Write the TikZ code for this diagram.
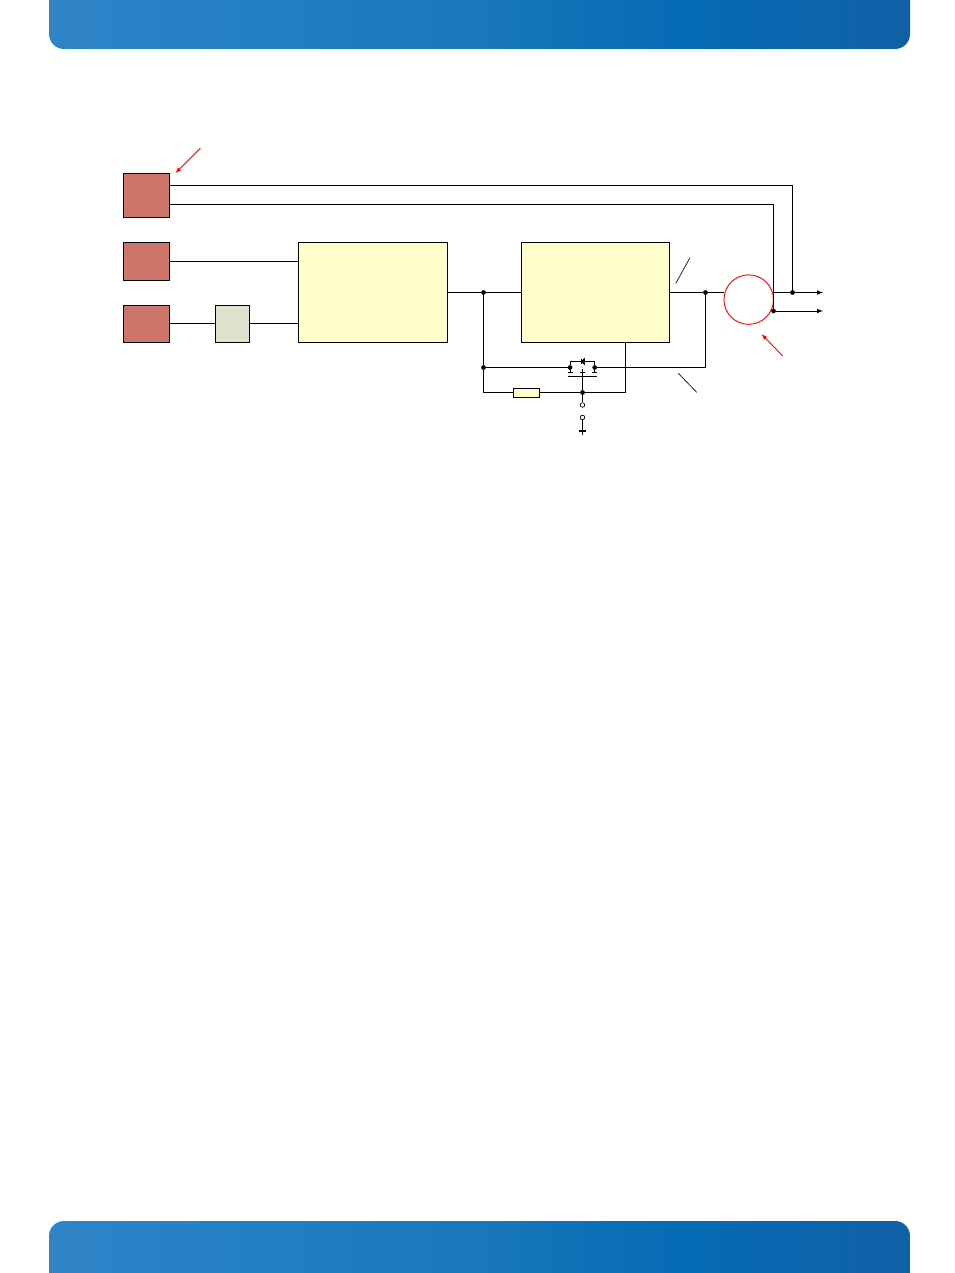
\documentclass[tikz,border=0pt]{standalone}
\usepackage{tikz}
\usetikzlibrary{arrows,positioning,calc}
\definecolor{srcred}{HTML}{CD756B}
\definecolor{blockyellow}{HTML}{FFFFCC}
\definecolor{filtergreen}{HTML}{DDE2CC}
\definecolor{bannerA}{HTML}{3084C8}
\definecolor{bannerB}{HTML}{1F7EC2}
\definecolor{bannerC}{HTML}{1878B9}
\definecolor{bannerD}{HTML}{056BB5}
\definecolor{bannerE}{HTML}{1160A5}
\pgfdeclarehorizontalshading{bannershade}{100bp}{
  color(0bp)=(bannerA); color(25bp)=(bannerA); color(40bp)=(bannerB); color(50bp)=(bannerC);
  color(62bp)=(bannerD); color(75bp)=(bannerE); color(100bp)=(bannerE)}
\tikzstyle{wire}=[draw=black,line width=1pt]
\tikzstyle{source}=[draw=black,line width=1pt,fill=srcred,minimum width=46pt,inner sep=0pt,outer sep=0pt,anchor=north west]
\tikzstyle{block}=[draw=black,line width=1pt,fill=blockyellow,minimum width=149pt,minimum height=100pt,inner sep=0pt,outer sep=0pt,anchor=north west]
\tikzstyle{jdot}=[draw=black,fill=black,circle,minimum size=4.2pt,inner sep=0pt]
\tikzstyle{opendot}=[draw=black,fill=white,circle,line width=0.7pt,minimum size=4.6pt,inner sep=0pt]
\tikzstyle{pointer}=[draw=red,line width=0.9pt,-latex]
\tikzstyle{tick}=[draw=black!85,line width=0.8pt]
\begin{document}
\begin{tikzpicture}[x=1pt,y=-1pt]
\useasboundingbox (0,0) rectangle (954,1273);
% header and footer bands
\shade[shading=bannershade] (49,-1) [rounded corners=15pt] -- (49,49) -- (910,49) [sharp corners] -- (910,-1) -- cycle;
\shade[shading=bannershade] (49,1274) [rounded corners=15pt] -- (49,1221) -- (910,1221) [sharp corners] -- (910,1274) -- cycle;

% left column
\node [source,minimum height=44pt] (src1) at (123.5,173.5) {};
\node [source,minimum height=38pt] (src2) at (123.5,242.5) {};
\node [source,minimum height=37pt] (src3) at (123.5,305.5) {};
\node [source,fill=filtergreen,minimum width=34pt,minimum height=37pt] (filter) at (215.5,305.5) {};
\node [block] (conv) at (298.5,242.5) {};
\node [block,minimum width=148pt] (reg) at (521.5,242.5) {};
\node [source,fill=blockyellow,minimum width=26pt,minimum height=9pt] (shunt) at (513.5,388) {};
\node [draw=red,line width=0.9pt,circle,minimum size=49.5pt,inner sep=0pt,outer sep=0pt] (conn) at (748.7,299.6) {};

% junctions and free ends
\node [jdot] (jin) at (483.5,292.5) {};
\node [jdot] (jfb) at (483.5,367.5) {};
\node [jdot] (jout) at (705.5,292.5) {};
\node [jdot] (jpos) at (792.5,292.5) {};
\node [jdot] (jneg) at (773.5,311) {};
\node [jdot] (jsrc) at (570,367.5) {};
\node [jdot] (jdrn) at (594.7,367.5) {};
\node [jdot] (jgate) at (582.5,392.5) {};
\node [opendot] (pin1) at (582.5,405) {};
\node [opendot] (pin2) at (582.5,417.5) {};
\coordinate (vplus) at (823,292.5);
\coordinate (vminus) at (823,311);
\coordinate (s1a) at (169.5,185.5);
\coordinate (s1b) at (169.5,204.5);
\coordinate (s3r) at (169.5,323.5);
\coordinate (gnd) at (582.5,434.5);
\coordinate (gatetop) at (582.5,369);
\coordinate (regtap) at (625.5,342.5);
\coordinate (hook) at (773.5,292.5);

% main wiring
\draw [wire] (s1a) -- (jpos |- s1a) -- (jpos);
\draw [wire] (s1b) -- (jneg |- s1b) -- (jneg);
\draw [wire] (src2.east) -- (conv.west |- src2.east);
\draw [wire] (s3r) -- (filter.west |- s3r);
\draw [wire] (filter.east |- s3r) -- (conv.west |- s3r);
\draw [wire] (conv.east |- jin) -- (jin) -- (reg.west |- jin);
\draw [wire] (reg.east |- jout) -- (jout) -- (conn.west |- jout);
\draw [wire,-latex] (hook) -- (jpos) -- (vplus);
\draw [wire,-latex] (jneg) -- (vminus);

% feedback path with the pass switch
\draw [wire] (jin) -- (jfb) -- (jsrc);
\draw [wire] (jdrn) -- (jout |- jdrn) -- (jout);
\draw [wire] (jfb) -- (jfb |- jgate) -- (shunt.west |- jgate);
\draw [wire] (shunt.east |- jgate) -- (jgate) -- (jgate -| regtap) -- (regtap);
\draw [wire] (gatetop) -- (jgate) -- (pin1);
\draw [wire] (pin2) -- (gnd);
\draw [wire,line width=1.6pt] (579,430.7) -- (586,430.7);

% switch symbol
\coordinate (dtopl) at (570,361.5);
\coordinate (dtopr) at (594.7,361.5);
\draw [wire] (jsrc) -- (dtopl) -- (dtopr) -- (jdrn);
\draw [wire] (jsrc) -- (570,372.7);
\draw [wire] (jdrn) -- (594.7,372.7);
\draw [wire] (567.5,372.7) -- (572.5,372.7);
\draw [wire] (592.2,372.7) -- (597.2,372.7);
\draw [wire] (579.8,372.7) -- (584.8,372.7);
\draw [wire] (568,376.5) -- (596.8,376.5);
\draw [wire,fill=black] (584.4,358.8) -- (584.4,364.2) -- (581.4,361.5) -- cycle;
\draw [wire] (581.2,358.8) -- (581.2,364.2);

% leader ticks
\coordinate (ta) at (675.8,283.3);
\coordinate (tb) at (690,257.7);
\coordinate (tc) at (678.3,373.3);
\coordinate (td) at (696.7,392.3);
\draw [tick] (ta) -- (tb);
\draw [tick] (tc) -- (td);

% red pointers
\coordinate (pa) at (200.3,148.3);
\coordinate (pb) at (175.5,173);
\coordinate (pc) at (782.7,356);
\coordinate (pd) at (761.7,334.3);
\draw [pointer] (pa) -- (pb);
\draw [pointer] (pc) -- (pd);
\end{tikzpicture}
\end{document}
